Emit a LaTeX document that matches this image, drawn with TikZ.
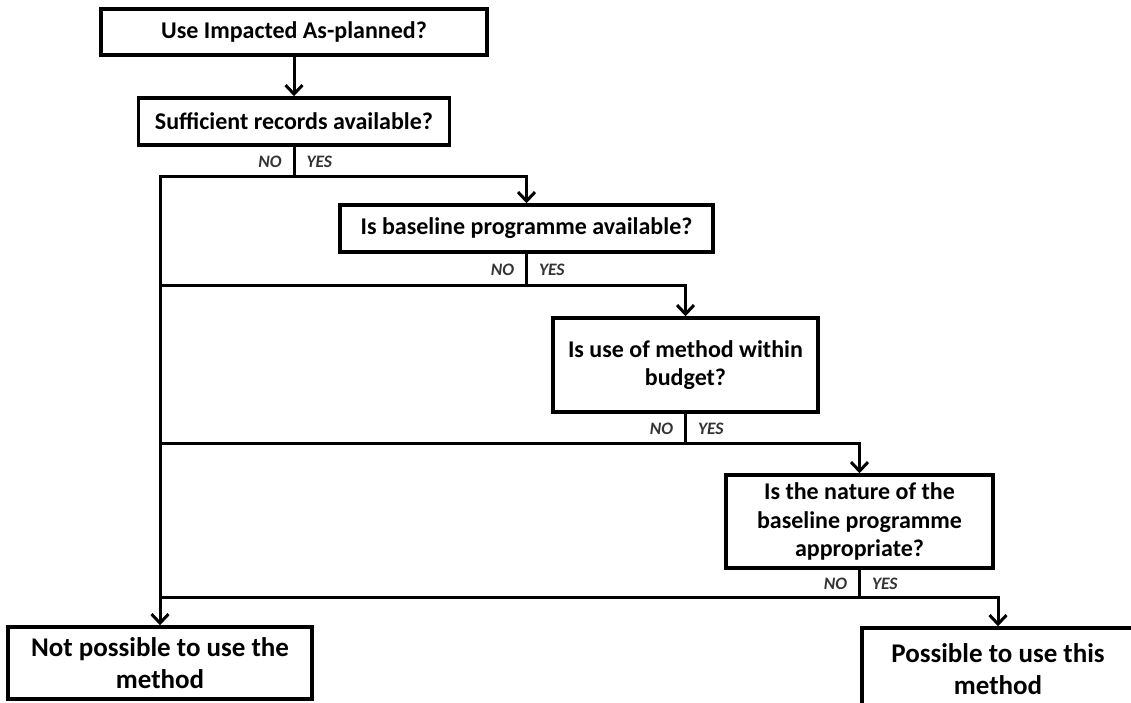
\documentclass[tikz,border=0pt]{standalone}
\usepackage{fontspec}
\setmainfont{Carlito}
\usetikzlibrary{arrows.meta}
\begin{document}
\begin{tikzpicture}[x=1pt,y=-1pt,
  qbox/.style={draw,line width=3.5pt,inner sep=0pt,align=center,
    font=\bfseries\fontsize{24}{28.5}\selectfont},
  endbox/.style={draw,line width=3.5pt,inner sep=0pt,align=center,
    font=\bfseries\fontsize{27}{32}\selectfont},
  flow/.style={line width=3pt},
  arr/.style={flow,-{Straight Barb[length=9pt,width=17pt,line width=3pt]}},
  ans/.style={font=\bfseries\itshape\fontsize{17.5}{19}\selectfont,text=black!80,
    inner xsep=11pt,inner ysep=3pt}
]
\useasboundingbox (0,0) rectangle (1131,703);

% decision boxes
\node[qbox,minimum width=386pt,minimum height=46pt] (q0) at (294,32) {Use Impacted As-planned?};
\node[qbox,minimum width=311pt,minimum height=47pt] (q1) at (294,121.5) {Sufficient records available?};
\node[qbox,minimum width=373pt,minimum height=47pt] (q2) at (526.5,228.5) {Is baseline programme available?};
\node[qbox,minimum width=265pt,minimum height=94pt] (q3) at (685.5,365) {Is use of method within\\budget?};
\node[qbox,minimum width=267pt,minimum height=93pt] (q4) at (859.5,521.5) {Is the nature of the\\baseline programme\\appropriate?};

% outcomes
\node[endbox,minimum width=304pt,minimum height=72pt] (no) at (160,663) {Not possible to use the\\method};
\node[endbox,minimum width=272pt,minimum height=83pt] (yes) at (998,669.5) {Possible to use this\\method};

% branch points below each question
\coordinate (j1) at (294,177);
\coordinate (j2) at (526.5,285);
\coordinate (j3) at (685.5,443);
\coordinate (j4) at (859.5,597);

\draw[arr] (q0) -- (q1);

\draw[flow] (q1.south) -- node[ans,anchor=east]{NO} node[ans,anchor=west]{YES} (j1);
\draw[arr] (j1) -| (q2.north);
\draw[flow] (q2.south) -- node[ans,anchor=east]{NO} node[ans,anchor=west]{YES} (j2);
\draw[arr] (j2) -| (q3.north);
\draw[flow] (q3.south) -- node[ans,anchor=east]{NO} node[ans,anchor=west]{YES} (j3);
\draw[arr] (j3) -| (q4.north);
\draw[flow] (q4.south) -- node[ans,anchor=east]{NO} node[ans,anchor=west]{YES} (j4);
\draw[arr] (j4) -| (yes.north);

% the NO branches gather on the left
\draw[arr] (j1) -| (no.north);
\draw[flow] (j2) -- (j2 -| no.north);
\draw[flow] (j3) -- (j3 -| no.north);
\draw[flow] (j4) -- (j4 -| no.north);
\end{tikzpicture}
\end{document}
